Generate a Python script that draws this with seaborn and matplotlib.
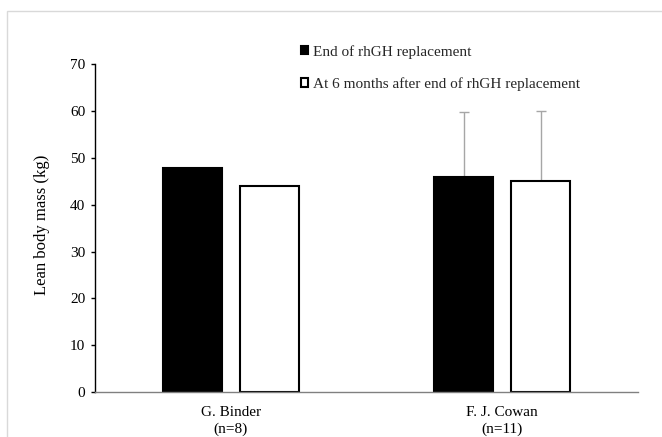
import numpy as np
import pandas as pd
import matplotlib
matplotlib.use("Agg")
import matplotlib.pyplot as plt
import seaborn as sns
from matplotlib.patches import Rectangle

# ---- data ----
studies = ["G. Binder\n(n=8)", "F. J. Cowan\n(n=11)"]
series = ["End of rhGH replacement", "At 6 months after end of rhGH replacement"]
end_values = [47.8, 46.0]
six_month_values = [44.0, 45.1]
end_err_upper = [np.nan, 13.8]
six_month_err_upper = [np.nan, 15.0]
yticks = [0, 10, 20, 30, 40, 50, 60, 70]

df = pd.DataFrame({
    "study": studies * 2,
    "series": [series[0]] * 2 + [series[1]] * 2,
    "value": end_values + six_month_values,
})
errs = [end_err_upper, six_month_err_upper]

sns.set_theme(style="white")
plt.rcParams["font.family"] = ["Liberation Serif", "DejaVu Serif"]

fig = plt.figure(figsize=(6.62, 4.37), dpi=100)
ax = fig.add_axes([95 / 662, 45 / 437, 543 / 662, (392 - 64.3) / 437])

sns.barplot(data=df, x="study", y="value", hue="series", order=studies,
            hue_order=series, palette={series[0]: "black", series[1]: "white"},
            saturation=1, edgecolor="black", linewidth=1.5, width=0.568,
            gap=0.23, errorbar=None, ax=ax)

# upper error bars
for cont, err in zip(ax.containers, errs):
    for patch, e in zip(cont.patches, err):
        if np.isnan(e):
            continue
        xc = patch.get_x() + patch.get_width() / 2
        h = patch.get_height()
        ax.errorbar([xc], [h], yerr=[[0], [e]], fmt="none", ecolor="#a6a6a6",
                    elinewidth=1, capsize=3.5, capthick=1, zorder=0.5)

ax.set_xlim(-0.5, len(studies) - 0.5)
ax.set_ylim(0, 70)
ax.set_yticks(yticks)
ax.set_xlabel("")
ax.set_ylabel("Lean body mass (kg)", fontsize=12, color="black", va="center")
ax.yaxis.set_label_coords(-0.0976, 0.51)

for s in ["top", "right"]:
    ax.spines[s].set_visible(False)
ax.spines["left"].set_color("black")
ax.spines["left"].set_linewidth(1)
ax.spines["bottom"].set_color("#808080")
ax.spines["bottom"].set_linewidth(1)

ax.tick_params(axis="y", which="both", left=True, length=3, width=1,
               color="black", labelsize=11, labelcolor="black", pad=4)
ax.tick_params(axis="x", length=0, labelsize=11, labelcolor="black", pad=10)
for lab in ax.get_xticklabels():
    lab.set_linespacing(1.35)

handles, labels = ax.get_legend_handles_labels()
ax.legend(handles, labels, loc="upper left", frameon=False,
          bbox_to_anchor=(301 / 662, 1 - 45 / 437), bbox_transform=fig.transFigure,
          borderaxespad=0, borderpad=0, handlelength=0.46, handleheight=0.46,
          handletextpad=0.3, labelspacing=1.2, fontsize=11)

# light outer frame
fig.patches.append(Rectangle((7 / 662, -0.1), 1.2, 1 - 11 / 437 + 0.1,
                             transform=fig.transFigure, fill=False,
                             edgecolor="#d9d9d9", linewidth=1))

fig.savefig("out.png", dpi=100)
